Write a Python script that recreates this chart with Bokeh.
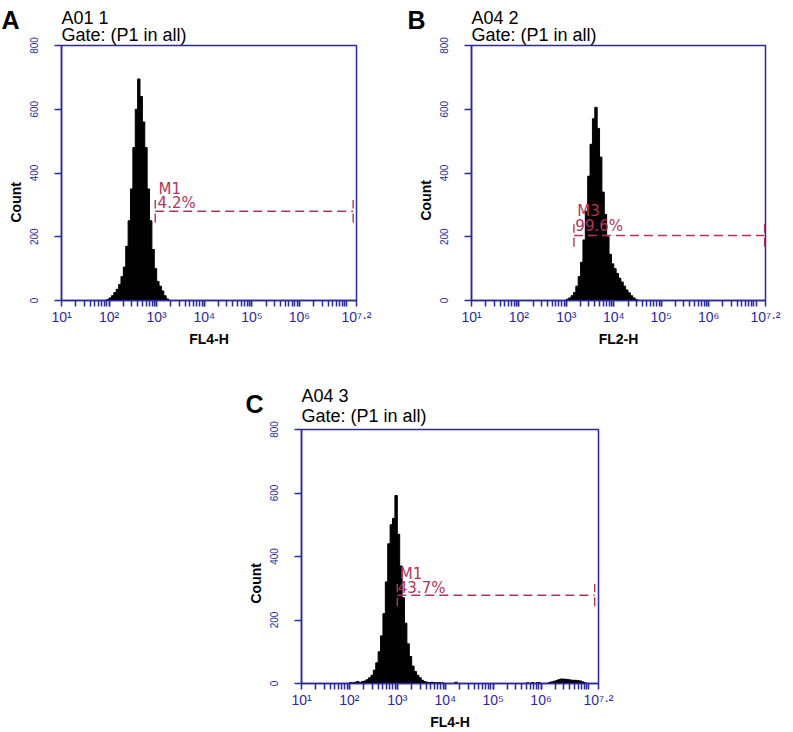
import numpy as np
from bokeh.plotting import figure
from bokeh.models import (Range1d, FixedTicker, CustomJSTickFormatter, Label,
                          Spacer, ColumnDataSource, Title)
from bokeh.layouts import column, row
from bokeh.embed import file_html
from bokeh.resources import INLINE

# ---------------- data (bin centres are log10 of fluorescence) ----------------
BIN_W = 0.05

A_EXP = [1.975, 2.025, 2.075, 2.125, 2.175, 2.225, 2.275, 2.325, 2.375, 2.425,
         2.475, 2.525, 2.575, 2.625, 2.675, 2.725, 2.775, 2.825, 2.875, 2.925,
         2.975, 3.025, 3.075, 3.125, 3.175, 3.225]
A_CNT = [3, 8, 15, 25, 35, 50, 75, 105, 170, 250,
         350, 480, 600, 695, 640, 560, 480, 350, 250, 160,
         100, 60, 45, 30, 15, 5]

B_EXP = [3.025, 3.075, 3.125, 3.175, 3.225, 3.275, 3.325, 3.375, 3.425, 3.475,
         3.525, 3.575, 3.625, 3.675, 3.725, 3.775, 3.825, 3.875, 3.925, 3.975,
         4.025, 4.075, 4.125, 4.175, 4.225, 4.275, 4.325, 4.375, 4.425, 4.475]
B_CNT = [4, 8, 15, 25, 45, 75, 120, 190, 280, 390,
         490, 570, 606, 540, 450, 340, 270, 200, 145, 115,
         100, 85, 70, 58, 45, 33, 24, 15, 8, 3]

C_EXP = [2.025, 2.075, 2.125, 2.175, 2.225, 2.275, 2.325, 2.375, 2.425, 2.475,
         2.525, 2.575, 2.625, 2.675, 2.725, 2.775, 2.825, 2.875, 2.925, 2.975,
         3.025, 3.075, 3.125, 3.175, 3.225, 3.275, 3.325, 3.375, 3.425, 3.475,
         3.525, 3.575, 3.625, 3.675, 3.725, 3.775, 3.825, 3.875, 3.925, 3.975,
         4.225, 5.725, 5.825, 5.925, 5.975, 6.175, 6.225, 6.275, 6.325, 6.375,
         6.425, 6.475, 6.525, 6.575, 6.625, 6.675, 6.725, 6.775, 6.825, 6.875,
         6.925]
C_CNT = [3, 2, 4, 6, 3, 6, 8, 12, 18, 26,
         42, 65, 100, 150, 220, 320, 440, 500, 520, 592,
         470, 370, 270, 190, 125, 85, 55, 38, 26, 18,
         10, 6, 4, 3, 4, 3, 2, 3, 2, 1,
         4, 2, 3, 3, 2, 3, 5, 7, 9, 12,
         14, 14, 13, 12, 11, 10, 10, 9, 8, 5,
         2]

# marker gates: [start exponent, end exponent], level (count)
A_GATE = [2.97, 7.13]; A_LEVEL = 280; A_NAME = "M1"; A_PCT = "4.2%"
B_GATE = [3.16, 7.18]; B_LEVEL = 204; B_NAME = "M3"; B_PCT = "99.6%"
C_GATE = [3.00, 7.12]; C_LEVEL = 278; C_NAME = "M1"; C_PCT = "43.7%"

TITLES = [("A", "A01 1", "FL4-H"), ("B", "A04 2", "FL2-H"), ("C", "A04 3", "FL4-H")]
GATE_TEXT = "Gate: (P1 in all)"

Y_TICKS = [0, 200, 400, 600, 800]
X_TICK_EXP = [1, 2, 3, 4, 5, 6, 7.2]
X_TICK_LABELS = ["10\u00b9", "10\u00b2", "10\u00b3", "10\u2074", "10\u2075",
                 "10\u2076", "10\u2077\u00b7\u00b2"]

BLUE = "#2a2aa0"
RED = "#b3345a"


def make_panel(letter, sample, xlabel, exps, counts, gate, level, name, pct,
               width, height, bl, bt, fw, fh, count_off, gate_so, sample_so,
               letter_so, letter_off, name_pos, pct_pos):
    br = width - bl - fw
    bb = height - bt - fh
    p = figure(x_axis_type="log", output_backend="svg", toolbar_location=None,
               frame_width=fw, frame_height=fh,
               min_border_left=bl, min_border_right=br,
               min_border_top=bt, min_border_bottom=bb,
               x_range=Range1d(10, 10 ** 7.2), y_range=Range1d(0, 800))
    p.title.visible = False
    p.background_fill_color = "white"
    p.border_fill_color = "white"
    p.outline_line_color = BLUE
    p.outline_line_width = 1.5
    p.xgrid.visible = False
    p.ygrid.visible = False

    e = np.array(exps)
    src = ColumnDataSource(dict(left=10 ** (e - BIN_W / 2), right=10 ** (e + BIN_W / 2),
                                top=counts))
    p.quad(left="left", right="right", bottom=0, top="top", source=src,
           fill_color="black", line_color="black", line_width=1)

    # gate marker
    x0, x1 = 10 ** gate[0], 10 ** gate[1]
    p.segment(x0=[x0, x0, x1], y0=[level, level - 35, level - 35],
              x1=[x1, x0, x1], y1=[level, level + 35, level + 35],
              line_color=RED, line_width=1.4, line_dash="9 5")
    p.add_layout(Label(x=10 ** name_pos[0], y=name_pos[1], text=name,
                       text_color=RED, text_font="DejaVu Sans", text_font_size="15px",
                       text_baseline="alphabetic"))
    p.add_layout(Label(x=10 ** pct_pos[0], y=pct_pos[1], text=pct,
                       text_color=RED, text_font="DejaVu Sans", text_font_size="15px",
                       text_baseline="alphabetic"))

    # axes
    xt = FixedTicker(ticks=[10 ** k for k in X_TICK_EXP],
                     minor_ticks=[m * 10 ** k for k in range(1, 7) for m in range(2, 11)])
    p.xaxis.ticker = xt
    p.xaxis.formatter = CustomJSTickFormatter(
        args=dict(exps=X_TICK_EXP, labels=X_TICK_LABELS),
        code="""
        const e = Math.log10(tick);
        let best = 0, bd = 1e9;
        for (let i = 0; i < exps.length; i++) {
            const d = Math.abs(exps[i] - e);
            if (d < bd) { bd = d; best = i; }
        }
        return labels[best];
        """)
    p.yaxis.ticker = FixedTicker(ticks=Y_TICKS, minor_ticks=[])
    for ax in (p.xaxis[0], p.yaxis[0]):
        ax.axis_line_color = BLUE
        ax.axis_line_width = 1.5
        ax.major_tick_line_color = BLUE
        ax.minor_tick_line_color = BLUE
        ax.major_tick_line_width = 1.5
        ax.minor_tick_line_width = 1.5
        ax.major_tick_in = 0
        ax.minor_tick_in = 0
        ax.major_label_text_color = BLUE
        ax.major_label_text_font = "Liberation Sans"
    p.xaxis.major_tick_out = 6
    p.xaxis.minor_tick_out = 6
    p.xaxis.major_label_standoff = 2
    p.xaxis.major_label_text_font_size = "14px"
    p.xaxis.axis_label = xlabel
    p.xaxis.axis_label_text_font = "Liberation Sans"
    p.xaxis.axis_label_text_font_size = "14px"
    p.xaxis.axis_label_text_font_style = "bold"
    p.xaxis.axis_label_text_color = "black"
    p.xaxis.axis_label_standoff = 3
    p.yaxis.major_tick_out = 7
    p.yaxis.minor_tick_out = 0
    p.yaxis.major_label_orientation = "vertical"
    p.yaxis.major_label_standoff = 17
    p.yaxis.major_label_text_font_size = "10px"

    # texts outside the frame, as titles in the side panels
    p.add_layout(Title(text=GATE_TEXT, align="left", standoff=gate_so,
                       text_font="Liberation Sans", text_font_size="18px",
                       text_font_style="normal", text_color="black"), "above")
    p.add_layout(Title(text=sample, align="left", standoff=sample_so,
                       text_font="Liberation Sans", text_font_size="18px",
                       text_font_style="normal", text_color="black"), "above")
    p.add_layout(Title(text=letter, align="left", standoff=letter_so, offset=letter_off,
                       text_font="Liberation Sans", text_font_size="25px",
                       text_font_style="bold", text_color="black"), "above")
    p.add_layout(Title(text="Count", align="left", offset=count_off, standoff=6,
                       text_font="Liberation Sans", text_font_size="14px",
                       text_font_style="bold", text_color="black"), "left")
    return p


pA = make_panel(*TITLES[0], A_EXP, A_CNT, A_GATE, A_LEVEL, A_NAME, A_PCT,
                width=395, height=380, bl=61, bt=45, fw=295, fh=255,
                count_off=78, gate_so=2, sample_so=-12, letter_so=-45, letter_off=-60,
                name_pos=(3.04, 351), pct_pos=(3.02, 306))
pB = make_panel(*TITLES[1], B_EXP, B_CNT, B_GATE, B_LEVEL, B_NAME, B_PCT,
                width=390, height=380, bl=76, bt=45, fw=294, fh=255,
                count_off=80, gate_so=2, sample_so=-12, letter_so=-45, letter_off=-64,
                name_pos=(3.23, 281), pct_pos=(3.19, 234))
pC = make_panel(*TITLES[2], C_EXP, C_CNT, C_GATE, C_LEVEL, C_NAME, C_PCT,
                width=398, height=344, bl=61, bt=49, fw=297, fh=254,
                count_off=80, gate_so=8, sample_so=-13, letter_so=-54, letter_off=-56,
                name_pos=(3.05, 344), pct_pos=(3.01, 302))

layout = column(row(pA, pB), row(Spacer(width=240, height=344), pC))

open("out.html", "w").write(file_html(layout, INLINE))
